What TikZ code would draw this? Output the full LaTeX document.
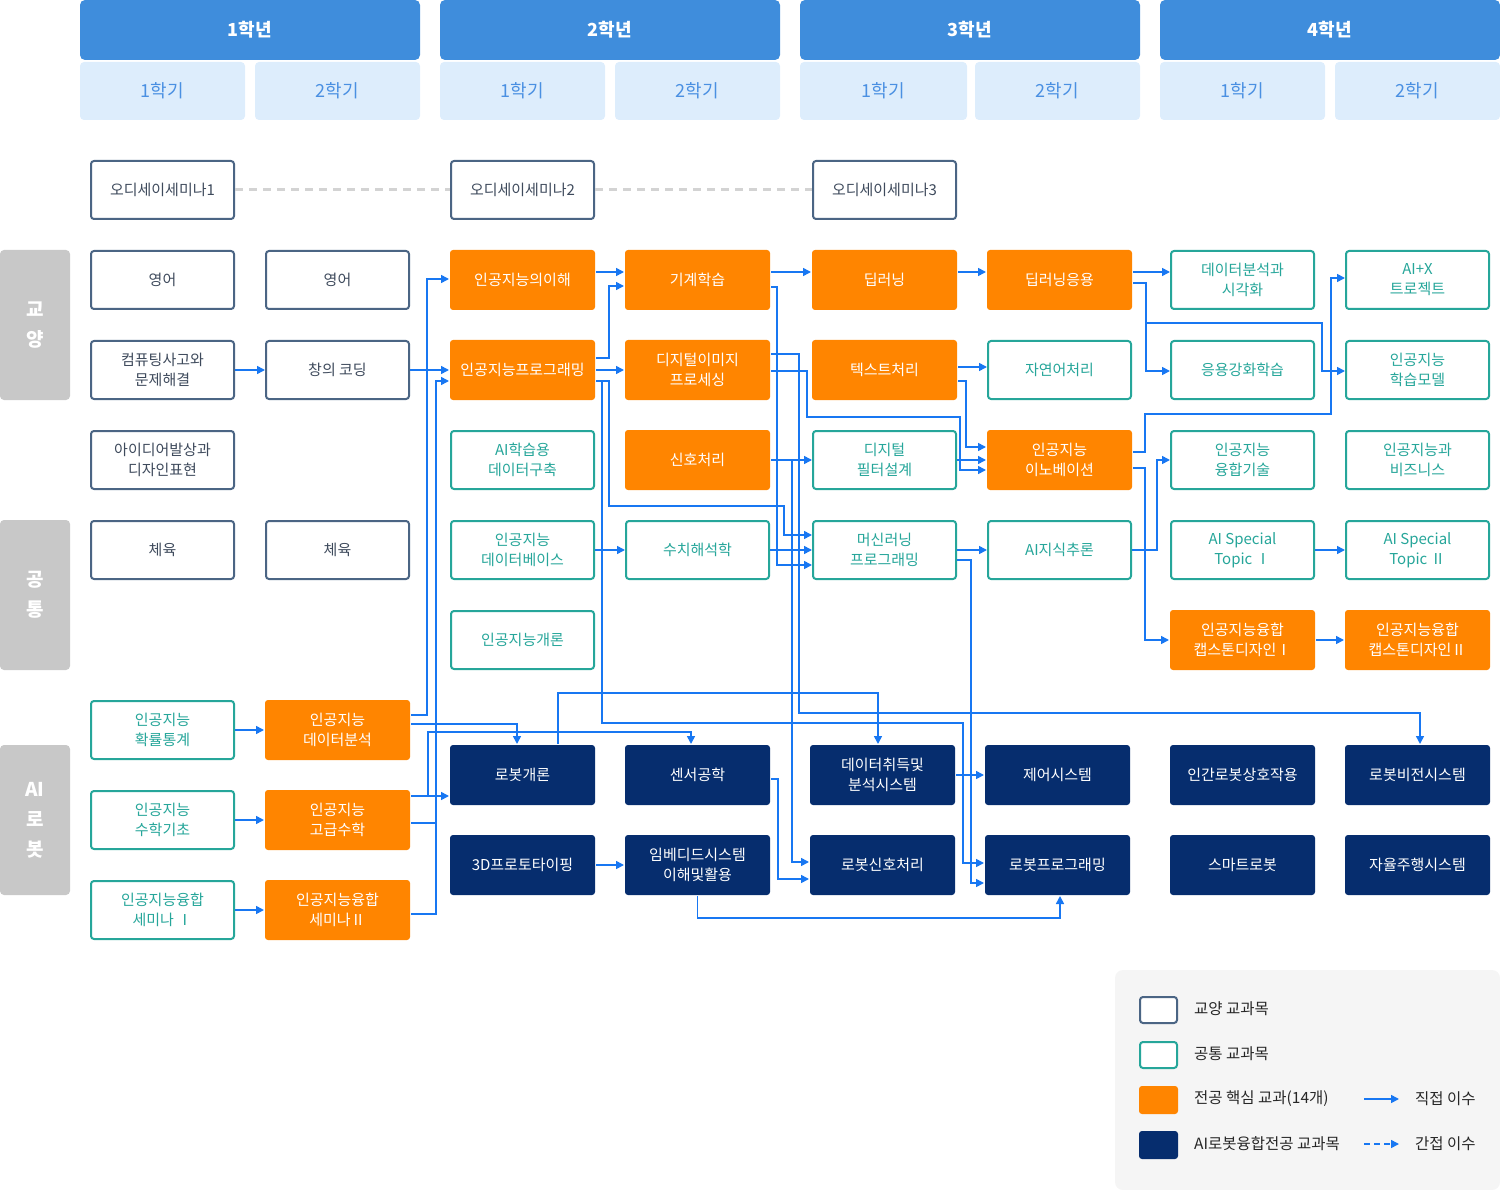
\documentclass[tikz,border=0pt]{standalone}
\usepackage{fontspec}
\setmainfont{Noto Sans CJK KR}
\usetikzlibrary{arrows.meta}
\definecolor{hdr}{HTML}{3F8DDC}
\definecolor{semB}{HTML}{DDEDFC}
\definecolor{semT}{HTML}{4A90E2}
\definecolor{gyoB}{HTML}{4B6584}
\definecolor{gyoT}{HTML}{3E4A5C}
\definecolor{tealc}{HTML}{26A69A}
\definecolor{orangec}{HTML}{FF8500}
\definecolor{navyc}{HTML}{062D6E}
\definecolor{arrc}{HTML}{1877F2}
\definecolor{sideg}{HTML}{C8C8C8}
\definecolor{dashg}{HTML}{D3D3D3}
\definecolor{legbg}{HTML}{F5F5F5}
\begin{document}
\begin{tikzpicture}[x=1pt,y=-1pt,
  cbox/.style={rounded corners=3pt, minimum width=143pt, minimum height=58pt, inner sep=0pt, align=center, font=\fontsize{15}{20}\selectfont, line width=2pt},
  gyo/.style={cbox, draw=gyoB, fill=white, text=gyoT},
  com/.style={cbox, draw=tealc, fill=white, text=tealc},
  core/.style={cbox, fill=orangec, text=white, minimum width=145pt, minimum height=60pt},
  robo/.style={cbox, fill=navyc, text=white, minimum width=145pt, minimum height=60pt},
  yearhd/.style={fill=hdr, rounded corners=5pt, minimum width=340pt, minimum height=60pt, inner sep=0pt, text=white, font=\fontsize{18}{20}\selectfont\bfseries},
  semhd/.style={fill=semB, rounded corners=4pt, minimum width=165pt, minimum height=58pt, inner sep=0pt, text=semT, font=\fontsize{18}{20}\selectfont},
  side/.style={fill=sideg, rounded corners=4pt, minimum width=70pt, minimum height=150pt, inner sep=0pt, text=white, align=center, font=\fontsize{19}{30}\selectfont\bfseries},
  arr/.style={draw=arrc, line width=1.6pt, -{Triangle[length=8pt,width=8pt]}},
  lnk/.style={draw=arrc, line width=1.6pt},
  dsh/.style={draw=dashg, line width=3pt, dash pattern=on 8pt off 6pt},
  legtxt/.style={anchor=west, inner sep=0pt, text=black!85, font=\fontsize{15.5}{18}\selectfont}
]
\useasboundingbox (0,0) rectangle (1500,1190);

% headers
\node[yearhd] (y1) at (250,30) {1학년};
\node[yearhd] (y2) at (610,30) {2학년};
\node[yearhd] (y3) at (970,30) {3학년};
\node[yearhd] (y4) at (1330,30) {4학년};
\node[semhd] (s11) at (162.5,91) {1학기};
\node[semhd] (s12) at (337.5,91) {2학기};
\node[semhd] (s21) at (522.5,91) {1학기};
\node[semhd] (s22) at (697.5,91) {2학기};
\node[semhd, minimum width=167pt] (s31) at (883.5,91) {1학기};
\node[semhd] (s32) at (1057.5,91) {2학기};
\node[semhd] (s41) at (1242.5,91) {1학기};
\node[semhd] (s42) at (1417.5,91) {2학기};

% side labels
\node[side] (lg) at (35,325) {교\\양};
\node[side] (lc) at (35,595) {공\\통};
\node[side] (lr) at (35,820) {AI\\로\\봇};

% seminars
\node[gyo] (sem1) at (162.5,190) {오디세이세미나1};
\node[gyo] (sem2) at (522.5,190) {오디세이세미나2};
\node[gyo] (sem3) at (884.5,190) {오디세이세미나3};
\draw[dsh] (sem1.east) -- (sem2.west);
\draw[dsh] (sem2.east) -- (sem3.west);

% column 1-2
\node[gyo] (eng1) at (162.5,280) {영어};
\node[gyo] (eng2) at (337.5,280) {영어};
\node[gyo] (comp) at (162.5,370) {컴퓨팅사고와\\문제해결};
\node[gyo] (code) at (337.5,370) {창의 코딩};
\node[gyo] (idea) at (162.5,460) {아이디어발상과\\디자인표현};
\node[gyo] (pe1) at (162.5,550) {체육};
\node[gyo] (pe2) at (337.5,550) {체육};
\node[com] (prob) at (162.5,730) {인공지능\\확률통계};
\node[com] (mathb) at (162.5,820) {인공지능\\수학기초};
\node[com] (semi1) at (162.5,910) {인공지능융합\\세미나 Ⅰ};
\node[core] (dana) at (337.5,730) {인공지능\\데이터분석};
\node[core] (amath) at (337.5,820) {인공지능\\고급수학};
\node[core] (semi2) at (337.5,910) {인공지능융합\\세미나Ⅱ};

% column 3-4
\node[core] (aiu) at (522.5,280) {인공지능의이해};
\node[core] (aip) at (522.5,370) {인공지능프로그래밍};
\node[com] (aid) at (522.5,460) {AI학습용\\데이터구축};
\node[com] (aidb) at (522.5,550) {인공지능\\데이터베이스};
\node[com] (aiintro) at (522.5,640) {인공지능개론};
\node[core] (mlearn) at (697.5,280) {기계학습};
\node[core] (dip) at (697.5,370) {디지털이미지\\프로세싱};
\node[core] (sig) at (697.5,460) {신호처리};
\node[com] (num) at (697.5,550) {수치해석학};

% column 5-6
\node[core] (dl) at (884.5,280) {딥러닝};
\node[core] (txt) at (884.5,370) {텍스트처리};
\node[com] (dfilt) at (884.5,460) {디지털\\필터설계};
\node[com] (mlp) at (884.5,550) {머신러닝\\프로그래밍};
\node[core] (dla) at (1059.5,280) {딥러닝응용};
\node[com] (nlp) at (1059.5,370) {자연어처리};
\node[core] (inno) at (1059.5,460) {인공지능\\이노베이션};
\node[com] (kr) at (1059.5,550) {AI지식추론};

% column 7-8
\node[com] (dav) at (1242.5,280) {데이터분석과\\시각화};
\node[com] (rl) at (1242.5,370) {응용강화학습};
\node[com] (fus) at (1242.5,460) {인공지능\\융합기술};
\node[com] (st1) at (1242.5,550) {AI Special\\Topic  Ⅰ};
\node[core] (cap1) at (1242.5,640) {인공지능융합\\캡스톤디자인Ⅰ};
\node[com] (aix) at (1417.5,280) {AI+X\\트로젝트};
\node[com] (lm) at (1417.5,370) {인공지능\\학습모델};
\node[com] (biz) at (1417.5,460) {인공지능과\\비즈니스};
\node[com] (st2) at (1417.5,550) {AI Special\\Topic Ⅱ};
\node[core] (cap2) at (1417.5,640) {인공지능융합\\캡스톤디자인Ⅱ};

% robot
\node[robo] (rob) at (522.5,775) {로봇개론};
\node[robo] (sens) at (697.5,775) {센서공학};
\node[robo] (daq) at (882.5,775) {데이터취득및\\분석시스템};
\node[robo] (ctrl) at (1057.5,775) {제어시스템};
\node[robo] (hri) at (1242.5,775) {인간로봇상호작용};
\node[robo] (rvis) at (1417.5,775) {로봇비전시스템};
\node[robo] (proto) at (522.5,865) {3D프로토타이핑};
\node[robo] (emb) at (697.5,865) {임베디드시스템\\이해및활용};
\node[robo] (rsig) at (882.5,865) {로봇신호처리};
\node[robo] (rprog) at (1057.5,865) {로봇프로그래밍};
\node[robo] (smart) at (1242.5,865) {스마트로봇};
\node[robo] (auto) at (1417.5,865) {자율주행시스템};

% connectors
\draw[arr] (comp.east) -- (code.west);
\draw[arr] (code.east) -- (aip.west);
\draw[arr] (prob.east) -- (dana.west);
\draw[arr] (mathb.east) -- (amath.west);
\draw[arr] (semi1.east) -- (semi2.west);
\draw[arr] (dana.east |- 0,715) -- (427,715) |- (aiu.west |- 0,279);
\draw[arr] (amath.east |- 0,823) -- (436,823) |- (aip.west |- 0,381);
\draw[lnk] (semi2.east |- 0,914) -- (436,914) -- (436,823);
\draw[arr] (dana.east |- 0,724) -| (rob.north -| 517,0);
\draw[arr] (amath.east |- 0,796) -- (rob.west |- 0,796);
\draw[arr] (428,796) |- (691,732) -- (sens.north -| 691,0);

\draw[arr] (aiu.east |- 0,272) -- (mlearn.west |- 0,272);
\draw[arr] (aip.east |- 0,358) -- (609,358) |- (mlearn.west |- 0,286);
\draw[arr] (aip.east) -- (dip.west);
\draw[arr] (aip.east |- 0,381) -- (602,381) |- (963,723) |- (rprog.west |- 0,863);
\draw[arr] (602,381) -- (609,381) |- (784,506) |- (mlp.west |- 0,535);

\draw[arr] (mlearn.east |- 0,272) -- (dl.west |- 0,272);
\draw[arr] (dl.east |- 0,272) -- (dla.west |- 0,272);
\draw[arr] (dla.east |- 0,272) -- (dav.west |- 0,272);
\draw[arr] (mlearn.east |- 0,287) -- (777,287) |- (mlp.west |- 0,565);
\draw[arr] (dip.east |- 0,354) -- (799,354) |- (1420,713) -- (rvis.north -| 1420,0);
\draw[arr] (dip.east |- 0,371) -- (807,371) |- (960,417) |- (inno.west |- 0,470);
\draw[arr] (sig.east) -- (dfilt.west);
\draw[arr] (792,460) |- (rsig.west |- 0,862);
\draw[arr] (aidb.east) -- (num.west);
\draw[arr] (num.east) -- (mlp.west);
\draw[arr] (mlp.east) -- (kr.west);
\draw[arr] (txt.east |- 0,367) -- (nlp.west |- 0,367);
\draw[arr] (txt.east |- 0,381) -- (966,381) |- (inno.west |- 0,447);
\draw[arr] (dfilt.east) -- (inno.west);
\draw[arr] (dla.east |- 0,283) -- (1146,283) |- (rl.west |- 0,371);
\draw[arr] (1146,283) |- (1322,323) |- (lm.west |- 0,371);
\draw[arr] (inno.east |- 0,452) -- (1145,452) |- (1331,414) |- (aix.west |- 0,278);
\draw[arr] (inno.east |- 0,468) -- (1145,468) |- (cap1.west |- 0,640);
\draw[arr] (kr.east) -- (1157,550) |- (fus.west |- 0,460);
\draw[arr] (st1.east) -- (st2.west);
\draw[arr] (cap1.east) -- (cap2.west);
\draw[arr] (mlp.east |- 0,560) -- (971,560) |- (rprog.west |- 0,883);
\draw[arr] (rob.north -| 558,0) |- (878,693) -- (daq.north -| 878,0);
\draw[arr] (sens.east |- 0,779) -- (778,779) |- (rsig.west |- 0,879);
\draw[arr] (daq.east) -- (ctrl.west);
\draw[arr] (proto.east) -- (emb.west);
\draw[arr] (emb.south) |- (1060,918) -- (rprog.south -| 1060,0);

% legend
\fill[legbg, rounded corners=8pt] (1115,970) rectangle (1500,1190);
\draw[gyoB, fill=white, line width=2pt, rounded corners=3pt] (1140,997) rectangle (1177,1023);
\draw[tealc, fill=white, line width=2pt, rounded corners=3pt] (1140,1042) rectangle (1177,1068);
\fill[orangec, rounded corners=3pt] (1139,1086) rectangle (1178,1114);
\fill[navyc, rounded corners=3pt] (1139,1131) rectangle (1178,1159);
\node[legtxt] (lt1) at (1194,1009) {교양 교과목};
\node[legtxt] (lt2) at (1194,1054) {공통 교과목};
\node[legtxt] (lt3) at (1194,1099) {전공 핵심 교과(14개)};
\node[legtxt] (lt4) at (1194,1144) {AI로봇융합전공 교과목};
\coordinate (la1) at (1364,1099);
\coordinate (lb1) at (1399,1099);
\coordinate (la2) at (1364,1144);
\coordinate (lb2) at (1399,1144);
\draw[arr] (la1) -- (lb1);
\draw[arr, dash pattern=on 6pt off 4pt] (la2) -- (lb2);
\node[legtxt] (lt5) at (1415,1099) {직접 이수};
\node[legtxt] (lt6) at (1415,1144) {간접 이수};
\end{tikzpicture}
\end{document}
